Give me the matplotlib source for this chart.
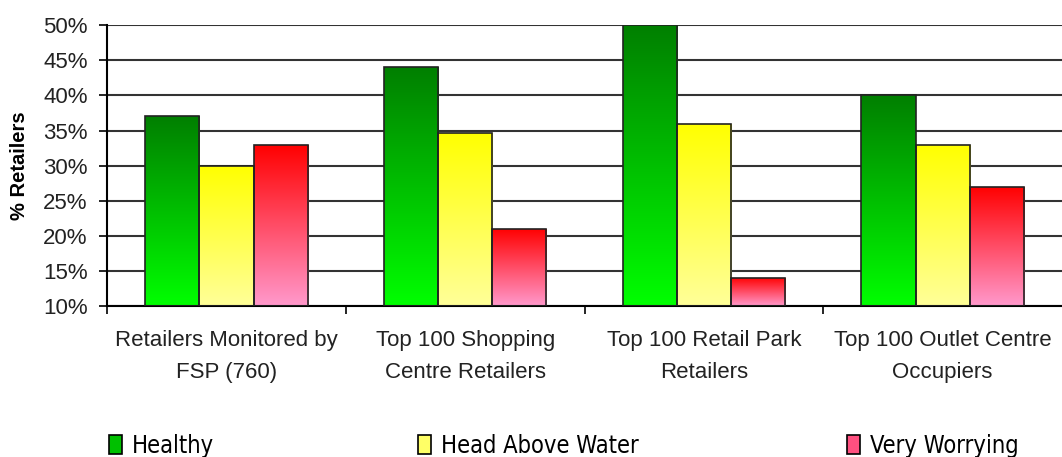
import numpy as np
import matplotlib
matplotlib.use("Agg")
import matplotlib.pyplot as plt
from matplotlib.colors import LinearSegmentedColormap
from matplotlib.patches import Patch

categories = ["Retailers Monitored by\nFSP (760)", "Top 100 Shopping\nCentre Retailers",
              "Top 100 Retail Park\nRetailers", "Top 100 Outlet Centre\nOccupiers"]
series = ["Healthy", "Head Above Water", "Very Worrying"]
healthy = [37, 44, 50, 40]
head_above = [30, 34.7, 36, 33]
worrying = [33, 21, 14, 27]
yticks = [10, 15, 20, 25, 30, 35, 40, 45, 50]

# gradient colours (top, bottom) per series
grads = [("#007f00", "#00ff00"), ("#ffff00", "#ffff99"), ("#ff0000", "#ff99cc")]
legend_cols = ["#00c000", "#ffff66", "#ff5080"]

plt.rcParams['font.family'] = ['Liberation Sans', 'DejaVu Sans']
fig = plt.figure(figsize=(10.62, 4.57), dpi=100)
ax = fig.add_axes([0.1008, 0.330, 0.8992, 0.615])

x = np.arange(len(categories))
w = 0.227
for i, vals in enumerate([healthy, head_above, worrying]):
    bars = ax.bar(x + (i - 1) * w, np.array(vals) - 10, w, bottom=10,
                  facecolor="none", edgecolor="#222222", linewidth=1.2, zorder=3)
    cmap = LinearSegmentedColormap.from_list("g%d" % i, [grads[i][1], grads[i][0]])
    for b in bars:
        x0, y0 = b.get_x(), b.get_y()
        x1, y1 = x0 + b.get_width(), y0 + b.get_height()
        im = ax.imshow(np.linspace(0, 1, 256).reshape(-1, 1), cmap=cmap, origin="lower",
                       extent=[x0, x1, y0, y1], aspect="auto", zorder=2)
        im.set_clip_path(b)

ax.set_xlim(-0.5, len(categories) - 0.5)
ax.set_ylim(10, 50)
ax.set_yticks(yticks)
ax.set_yticklabels(["%d%%" % t for t in yticks], fontsize=16, color="#222222")
ax.yaxis.grid(True, color="#333333", linewidth=1.5, zorder=1)
ax.set_axisbelow(True)
ax.set_xticks(x)
ax.set_xticklabels(categories, fontsize=16, linespacing=1.7, color="#222222")
ax.set_xticks(np.arange(len(categories)) - 0.5, minor=True)
ax.tick_params(axis="x", which="major", length=0, pad=17)
ax.tick_params(axis="x", which="minor", length=6, width=1.2, direction="out")
ax.tick_params(axis="y", length=6, width=1.2, pad=8)
ax.set_ylabel("% Retailers", fontsize=14.5, fontweight="bold", labelpad=10)
for s in ["top", "right"]:
    ax.spines[s].set_visible(False)
ax.spines["left"].set_linewidth(1.5)
ax.spines["bottom"].set_linewidth(1.5)

legend_x = [0.083, 0.374, 0.778]
for i, name in enumerate(series):
    fig.legend(handles=[Patch(facecolor=legend_cols[i], edgecolor="black", linewidth=1.2)],
               labels=[name], loc="lower left", bbox_to_anchor=(legend_x[i], -0.048),
               frameon=False, handlelength=0.55, handleheight=0.9, handletextpad=0.4,
               prop={"family": "DejaVu Sans", "stretch": "condensed", "size": 17})

fig.savefig("out.png", dpi=100)
